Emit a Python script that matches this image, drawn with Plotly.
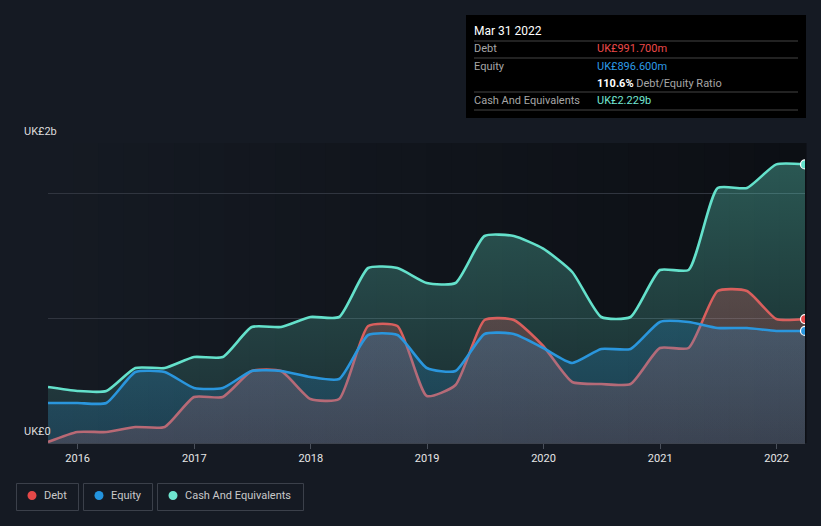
import plotly.graph_objects as go

# ---------------- data (UK£ millions) ----------------
dates = ["2015-09-30", "2015-12-31", "2016-03-31", "2016-06-30", "2016-09-30", "2016-12-31",
         "2017-03-31", "2017-06-30", "2017-09-30", "2017-12-31", "2018-03-31", "2018-06-30",
         "2018-09-30", "2018-12-31", "2019-03-31", "2019-06-30", "2019-09-30", "2019-12-31",
         "2020-03-31", "2020-06-30", "2020-09-30", "2020-12-31", "2021-03-31", "2021-06-30",
         "2021-09-30", "2021-12-31", "2022-03-31"]
cash = [448, 416, 416, 600, 600, 688, 688, 928, 928, 1008, 1008, 1400, 1400, 1280, 1280,
        1656, 1656, 1555, 1368, 1008, 1008, 1384, 1384, 2040, 2040, 2229, 2229]
equity = [320, 320, 320, 568, 568, 440, 440, 576, 576, 528, 512, 864, 864, 600, 576,
          872, 872, 760, 640, 752, 752, 968, 968, 920, 920, 896.6, 896.6]
debt = [8, 88, 88, 128, 128, 368, 368, 576, 576, 352, 352, 936, 936, 376, 464,
        984, 984, 776, 488, 472, 472, 760, 760, 1216, 1216, 991.7, 991.7]

series_names = ["Debt", "Equity", "Cash And Equivalents"]
y_tick_labels = ["UK£0", "UK£2b"]
tooltip_title = "Mar 31 2022"
tooltip_values = ["UK£991.700m", "UK£896.600m", "UK£2.229b"]
ratio_text = "110.6%"

# ---------------- style ----------------
W, H = 821, 526
L, R, T, B = 48, 805, 143, 443
BG = "#151a23"
TEAL, BLUE, RED = "#64e1cb", "#2a96dd", "#d95f5d"
FONT = "Roboto"


def px(x):
    return (x - L) / (R - L)


def py(y):
    return (B - y) / (B - T)


fig = go.Figure()

spline = dict(shape="spline", smoothing=0.55, width=2.6)

fig.add_trace(go.Scatter(
    x=dates, y=cash, mode="lines", name=series_names[2],
    line=dict(color=TEAL, **spline), fill="tozeroy",
    fillgradient=dict(type="vertical", start=0, stop=2400,
                      colorscale=[[0, "rgba(100,226,204,0.10)"], [1, "rgba(100,226,204,0.36)"]]),
    hoverinfo="skip"))
fig.add_trace(go.Scatter(
    x=dates, y=debt, mode="lines", name=series_names[0],
    line=dict(color=RED, **spline), fill="tozeroy",
    fillgradient=dict(type="vertical", start=0, stop=1300,
                      colorscale=[[0, "rgba(225,95,95,0.20)"], [1, "rgba(225,95,95,0.28)"]]),
    hoverinfo="skip"))
fig.add_trace(go.Scatter(
    x=dates, y=equity, mode="lines", name=series_names[1],
    line=dict(color=BLUE, **spline), fill="tozeroy",
    fillgradient=dict(type="vertical", start=0, stop=1000,
                      colorscale=[[0, "rgba(42,150,221,0.18)"], [1, "rgba(42,150,221,0.24)"]]),
    hoverinfo="skip"))

# end markers
for vals, col in [(debt, "#e44848"), (equity, BLUE), (cash, TEAL)]:
    fig.add_trace(go.Scatter(x=[dates[-1]], y=[vals[-1]], mode="markers",
                             marker=dict(size=9, color=col, line=dict(color="white", width=1.2)),
                             hoverinfo="skip", showlegend=False))

shapes = []
# horizontal gradient in plot background
n = 30
c0 = (21, 26, 35)
c1 = (12, 15, 20)
for i in range(n):
    t = i / (n - 1)
    c = tuple(int(round(c0[k] + (c1[k] - c0[k]) * t)) for k in range(3))
    shapes.append(dict(type="rect", xref="x domain", yref="y domain",
                       x0=i / n, x1=(i + 1) / n + 0.002, y0=0, y1=1,
                       fillcolor="rgb(%d,%d,%d)" % c, line=dict(width=0), layer="below"))

# tooltip box
shapes.append(dict(type="rect", xref="paper", yref="paper",
                   x0=px(466), x1=px(806), y0=py(118), y1=py(15),
                   fillcolor="#000000", line=dict(width=0), layer="above"))
for yy in [41, 58, 92, 110]:
    shapes.append(dict(type="line", xref="paper", yref="paper",
                       x0=px(474), x1=px(798), y0=py(yy), y1=py(yy),
                       line=dict(color="#454545", width=1), layer="above"))

legend_boxes = [(16.5, 483.5, 78.5, 510.5), (83.5, 483.5, 152.5, 510.5), (157.5, 483.5, 303.5, 510.5)]
for (x0, y0, x1, y1) in legend_boxes:
    shapes.append(dict(type="rect", xref="paper", yref="paper",
                       x0=px(x0), x1=px(x1), y0=py(y1), y1=py(y0),
                       fillcolor="rgba(0,0,0,0)", line=dict(color="#3b404a", width=1)))

legend_dots = [(32, "#e44848"), (99, "#2394df"), (173, "#6ee5cf")]
for (cx, col) in legend_dots:
    shapes.append(dict(type="circle", xref="paper", yref="paper",
                       xsizemode="pixel", ysizemode="pixel",
                       xanchor=px(cx), yanchor=py(495.5),
                       x0=-4.5, x1=4.5, y0=-4.5, y1=4.5,
                       fillcolor=col, line=dict(width=0)))

annotations = []


def txt(x, y, s, color, size=11, anchor="left"):
    annotations.append(dict(x=px(x), y=py(y), xref="paper", yref="paper", text=s,
                            showarrow=False, xanchor=anchor, yanchor="middle",
                            font=dict(family=FONT, size=size, color=color)))


# y labels
txt(22, 431, y_tick_labels[0], "#dcdcdc", 11)
txt(22, 131, y_tick_labels[1], "#dcdcdc", 11)

# tooltip
txt(472, 31, tooltip_title, "#ffffff", 12)
txt(472, 48.5, series_names[0], "#a6a6a6", 11)
txt(595, 48.5, tooltip_values[0], "#ec4a4a", 11)
txt(472, 66, series_names[1], "#a6a6a6", 11)
txt(595, 66, tooltip_values[1], "#2d9be6", 11)
txt(595, 83.5, f"<b>{ratio_text}</b> <span style='color:#a6a6a6'>Debt/Equity Ratio</span>", "#ffffff", 11)
txt(472, 100.5, series_names[2], "#a6a6a6", 11)
txt(595, 100.5, tooltip_values[2], "#72e6d2", 11)

# legend text
txt(42, 495.5, series_names[0], "#c9c9c9", 11)
txt(109, 495.5, series_names[1], "#c9c9c9", 11)
txt(183, 495.5, series_names[2], "#c9c9c9", 11)

fig.update_layout(
    width=W, height=H,
    margin=dict(l=L, r=W - R, t=T, b=H - B),
    paper_bgcolor=BG, plot_bgcolor=BG,
    showlegend=False,
    shapes=shapes, annotations=annotations,
    font=dict(family=FONT, color="#e6e6e6"),
    xaxis=dict(type="date", range=[dates[0], dates[-1]],
               tickvals=["2016-01-01", "2017-01-01", "2018-01-01", "2019-01-01",
                         "2020-01-01", "2021-01-01", "2022-01-01"],
               ticktext=["2016", "2017", "2018", "2019", "2020", "2021", "2022"],
               tickfont=dict(family=FONT, size=11, color="#e6e6e6"),
               ticks="outside", ticklen=5, tickcolor="#4a505b",
               showgrid=False, zeroline=False,
               showline=True, linecolor="#3d434e", linewidth=1),
    yaxis=dict(range=[0, 2400], tickvals=[0, 1000, 2000, 2400],
               showticklabels=False, showgrid=True, gridcolor="#30353f", gridwidth=1,
               zeroline=False, fixedrange=True),
)

fig.write_html("out.html", config={"displayModeBar": False},
               post_script="document.body.style.margin='0';document.body.style.background='%s';" % BG)
